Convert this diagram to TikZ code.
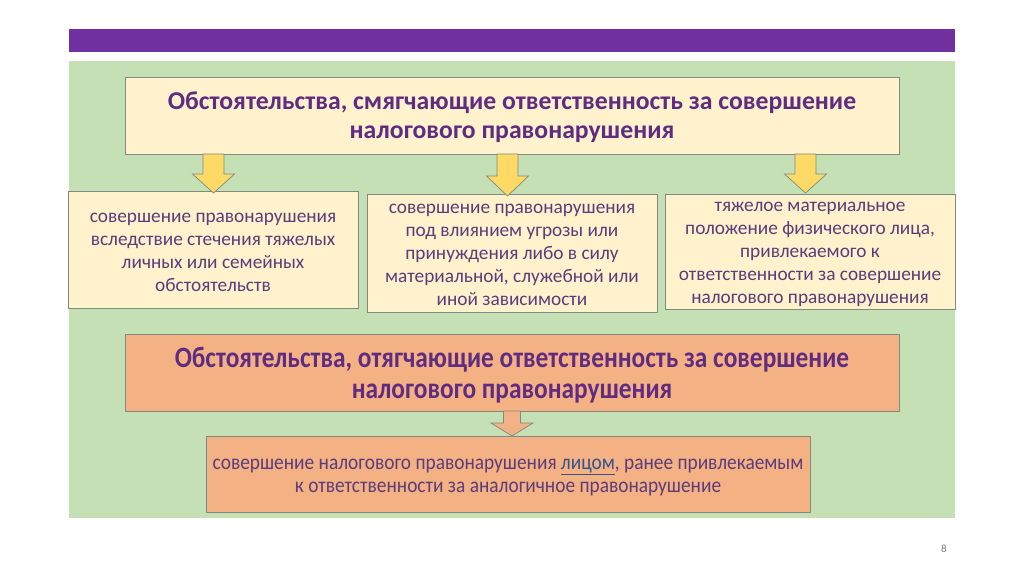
\documentclass[tikz,border=0pt]{standalone}
\usepackage{fontspec}
\setmainfont{Carlito}
\newfontfamily\narrowfont{Carlito}[FakeStretch=0.86]
\newfontfamily\semifont{Carlito}[FakeStretch=0.9]
\usetikzlibrary{calc}
\definecolor{barpurple}{HTML}{7030A0}
\definecolor{panelgreen}{HTML}{C5E0B4}
\definecolor{lightyellow}{HTML}{FFF2CC}
\definecolor{arrowyellow}{HTML}{FFD966}
\definecolor{orangefill}{HTML}{F4B183}
\definecolor{boxborder}{HTML}{7F8A80}
\definecolor{titlepurple}{HTML}{5F2C82}
\definecolor{textpurple}{HTML}{5B3D7B}
\definecolor{linkblue}{HTML}{34528C}
\newcommand\myblockarrow[6]{% x, ytop, yheadstart, ytip, shaft half width, style
  \draw[#6] (#1-#5,#2) -- (#1+#5,#2) -- (#1+#5,#3) -- (#1+21,#3) -- (#1,#4) -- (#1-21,#3) -- (#1-#5,#3) -- cycle;}
\begin{document}
\begin{tikzpicture}[x=1pt,y=-1pt,
  ybox/.style={draw=boxborder, line width=0.9pt, fill=lightyellow, inner sep=0pt},
  obox/.style={draw=boxborder, line width=0.9pt, fill=orangefill, inner sep=0pt},
  titletext/.style={text=titlepurple, align=center, inner sep=0pt, font=\fontsize{25.7}{29}\selectfont\bfseries},
  itemtext/.style={text=textpurple, align=center, inner sep=0pt, font=\fontsize{19.3}{23}\selectfont},
  yarrow/.style={draw=boxborder, line width=0.7pt, fill=arrowyellow},
  oarrow/.style={draw=boxborder, line width=0.7pt, fill=orangefill}]
\useasboundingbox (0,0) rectangle (1024,574);
\fill[white] (0,0) rectangle (1024,574);
\fill[barpurple] (69,29) rectangle (955,52);
\fill[panelgreen] (69,61) rectangle (955,518);

\node[ybox, minimum width=774, minimum height=77] (top) at (512,115.5) {};
\node[titletext] (topt) at (512,117.5)
  {Обстоятельства, смягчающие ответственность за совершение\\налогового правонарушения};

\node[ybox, minimum width=290, minimum height=117] (b1) at (213,250) {};
\node[itemtext] (b1t) at (213,252)
  {совершение правонарушения\\вследствие стечения тяжелых\\личных или семейных\\обстоятельств};
\node[ybox, minimum width=290, minimum height=118] (b2) at (512,253) {};
\node[itemtext] (b2t) at (512,255)
  {совершение правонарушения\\под влиянием угрозы или\\принуждения либо в силу\\материальной, служебной или\\иной зависимости};
\node[ybox, minimum width=290, minimum height=115] (b3) at (810,251.5) {};
\node[itemtext] (b3t) at (810,254)
  {тяжелое материальное\\положение физического лица,\\привлекаемого к\\ответственности за совершение\\налогового правонарушения};

\myblockarrow{213.5}{154}{174}{193}{10.5}{yarrow}
\myblockarrow{507.5}{154}{176}{196}{10.5}{yarrow}
\myblockarrow{805.5}{154}{174}{193}{10.5}{yarrow}

\node[obox, minimum width=774, minimum height=77] (agg) at (512,372.5) {};
\node[text=titlepurple, align=center, inner sep=0pt,
  font=\narrowfont\fontsize{29.5}{31}\selectfont\bfseries] (aggt) at (512,375)
  {Обстоятельства, отягчающие ответственность за совершение\\налогового правонарушения};

\myblockarrow{512}{411}{423}{436}{8.5}{oarrow}

\node[obox, minimum width=604, minimum height=76] (rep) at (508,474) {};
\node[text=textpurple, align=center, inner sep=0pt,
  font=\semifont\fontsize{21.5}{23}\selectfont] (rept) at (508,477)
  {совершение налогового правонарушения {\color{linkblue}\underline{лицом}}, ранее привлекаемым\\к ответственности за аналогичное правонарушение};

\node[text=gray, font=\fontsize{11}{13}\selectfont] (pg) at (944,549) {8};
\end{tikzpicture}
\end{document}
